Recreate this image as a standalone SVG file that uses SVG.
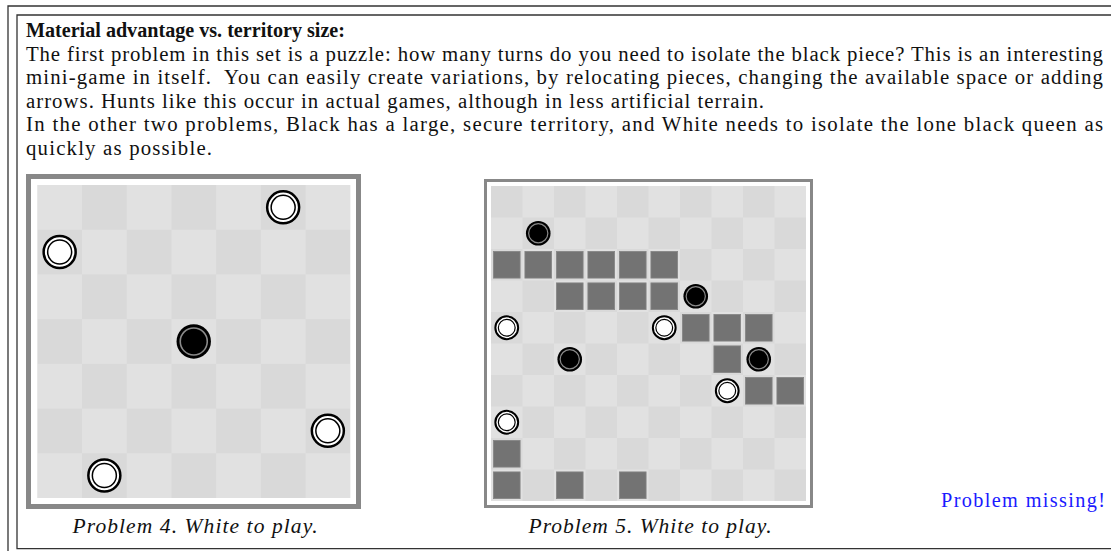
<svg xmlns="http://www.w3.org/2000/svg" width="1111" height="551" viewBox="0 0 1111 551">
<style>
.body{font-family:"Liberation Serif","Times New Roman",serif;font-size:20.8px;fill:#111}
.head{font-weight:bold}
.cap{font-family:"Liberation Serif","Times New Roman",serif;font-size:21.5px;font-style:italic;fill:#111;text-anchor:middle}
.miss{font-family:"Liberation Serif","Times New Roman",serif;font-size:20.3px;fill:#1a1aff}
.rule{stroke:#333;stroke-width:1.3;fill:none}
.frame{fill:#fff;stroke:#888}
.blk{fill:#737373;stroke:#858585;stroke-width:0.8}
.wo{fill:#fff;stroke:#000}
.wi{fill:#fff;stroke:#000}
.bo{fill:#000}
.bi{fill:none;stroke:#8a8a8a}
</style>
<defs>
<pattern id="chk1" patternUnits="userSpaceOnUse" x="37.3" y="185" width="89.428" height="89.428">
<rect width="89.428" height="89.428" fill="#e1e1e1"/>
<rect x="44.714" y="0" width="44.714" height="44.714" fill="#d9d9d9"/>
<rect x="0" y="44.714" width="44.714" height="44.714" fill="#d9d9d9"/>
</pattern>
<pattern id="chk2" patternUnits="userSpaceOnUse" x="491" y="186" width="63" height="63">
<rect width="63" height="63" fill="#e1e1e1"/>
<rect x="0" y="0" width="31.5" height="31.5" fill="#d9d9d9"/>
<rect x="31.5" y="31.5" width="31.5" height="31.5" fill="#d9d9d9"/>
</pattern>
</defs>
<rect width="1111" height="551" fill="#fff"/>
<g id="page-rules">
<path class="rule" d="M8,551 V6 H1111"/>
<path class="rule" d="M1111,15 H17 V548.7 H1111"/>
</g>
<g id="intro-text" class="body">
<text class="head" x="26" y="37" textLength="319" lengthAdjust="spacingAndGlyphs">Material advantage vs. territory size:</text>
<text x="26" y="60.5" textLength="1077" lengthAdjust="spacing">The first problem in this set is a puzzle: how many turns do you need to isolate the black piece? This is an interesting</text>
<text x="26" y="84" textLength="1077" lengthAdjust="spacing">mini-game in itself.&#160; You can easily create variations, by relocating pieces, changing the available space or adding</text>
<text x="26" y="107.5" textLength="738" lengthAdjust="spacing">arrows. Hunts like this occur in actual games, although in less artificial terrain.</text>
<text x="26" y="131" textLength="1077" lengthAdjust="spacing">In the other two problems, Black has a large, secure territory, and White needs to isolate the lone black queen as</text>
<text x="26" y="154.5" textLength="186" lengthAdjust="spacing">quickly as possible.</text>
</g>
<g id="problem4">
<rect class="frame" x="28.5" y="176.5" width="330" height="330" stroke-width="5"/>
<rect x="37.3" y="185" width="313" height="313" fill="url(#chk1)"/>
<g id="p4-w1"><circle class="wo" cx="283.15" cy="207.35" r="16" stroke-width="2.5"/><circle class="wi" cx="283.15" cy="207.35" r="12" stroke-width="1.5"/></g>
<g id="p4-w2"><circle class="wo" cx="59.65" cy="252.05" r="16" stroke-width="2.5"/><circle class="wi" cx="59.65" cy="252.05" r="12" stroke-width="1.5"/></g>
<g id="p4-b1"><circle class="bo" cx="193.75" cy="341.45" r="17.2"/><circle class="bi" cx="193.75" cy="341.45" r="13.5" stroke-width="1.6"/></g>
<g id="p4-w3"><circle class="wo" cx="327.85" cy="430.85" r="16" stroke-width="2.5"/><circle class="wi" cx="327.85" cy="430.85" r="12" stroke-width="1.5"/></g>
<g id="p4-w4"><circle class="wo" cx="104.35" cy="475.55" r="16" stroke-width="2.5"/><circle class="wi" cx="104.35" cy="475.55" r="12" stroke-width="1.5"/></g>
<text class="cap" x="195" y="533" textLength="245" lengthAdjust="spacing">Problem 4. White to play.</text>
</g>
<g id="problem5">
<rect class="frame" x="485.5" y="180.5" width="326" height="326" stroke-width="3"/>
<rect x="491" y="186" width="315" height="315" fill="url(#chk2)"/>
<g id="p5-blocks">
<rect class="blk" x="493.4" y="251.4" width="26.7" height="26.7"/>
<rect class="blk" x="524.9" y="251.4" width="26.7" height="26.7"/>
<rect class="blk" x="556.4" y="251.4" width="26.7" height="26.7"/>
<rect class="blk" x="587.9" y="251.4" width="26.7" height="26.7"/>
<rect class="blk" x="619.4" y="251.4" width="26.7" height="26.7"/>
<rect class="blk" x="650.9" y="251.4" width="26.7" height="26.7"/>
<rect class="blk" x="556.4" y="282.9" width="26.7" height="26.7"/>
<rect class="blk" x="587.9" y="282.9" width="26.7" height="26.7"/>
<rect class="blk" x="619.4" y="282.9" width="26.7" height="26.7"/>
<rect class="blk" x="650.9" y="282.9" width="26.7" height="26.7"/>
<rect class="blk" x="682.4" y="314.4" width="26.7" height="26.7"/>
<rect class="blk" x="713.9" y="314.4" width="26.7" height="26.7"/>
<rect class="blk" x="745.4" y="314.4" width="26.7" height="26.7"/>
<rect class="blk" x="713.9" y="345.9" width="26.7" height="26.7"/>
<rect class="blk" x="745.4" y="377.4" width="26.7" height="26.7"/>
<rect class="blk" x="776.9" y="377.4" width="26.7" height="26.7"/>
<rect class="blk" x="493.4" y="440.4" width="26.7" height="26.7"/>
<rect class="blk" x="493.4" y="471.9" width="26.7" height="26.7"/>
<rect class="blk" x="556.4" y="471.9" width="26.7" height="26.7"/>
<rect class="blk" x="619.4" y="471.9" width="26.7" height="26.7"/>
</g>
<g id="p5-b1"><circle class="bo" cx="538.25" cy="233.25" r="12.3"/><circle class="bi" cx="538.25" cy="233.25" r="9.6" stroke-width="1.2"/></g>
<g id="p5-b2"><circle class="bo" cx="695.75" cy="296.25" r="12.3"/><circle class="bi" cx="695.75" cy="296.25" r="9.6" stroke-width="1.2"/></g>
<g id="p5-w1"><circle class="wo" cx="506.75" cy="327.75" r="11.4" stroke-width="2"/><circle class="wi" cx="506.75" cy="327.75" r="8.4" stroke-width="1.2"/></g>
<g id="p5-w2"><circle class="wo" cx="664.25" cy="327.75" r="11.4" stroke-width="2"/><circle class="wi" cx="664.25" cy="327.75" r="8.4" stroke-width="1.2"/></g>
<g id="p5-b3"><circle class="bo" cx="569.75" cy="359.25" r="12.3"/><circle class="bi" cx="569.75" cy="359.25" r="9.6" stroke-width="1.2"/></g>
<g id="p5-b4"><circle class="bo" cx="758.75" cy="359.25" r="12.3"/><circle class="bi" cx="758.75" cy="359.25" r="9.6" stroke-width="1.2"/></g>
<g id="p5-w3"><circle class="wo" cx="727.25" cy="390.75" r="11.4" stroke-width="2"/><circle class="wi" cx="727.25" cy="390.75" r="8.4" stroke-width="1.2"/></g>
<g id="p5-w4"><circle class="wo" cx="506.75" cy="422.25" r="11.4" stroke-width="2"/><circle class="wi" cx="506.75" cy="422.25" r="8.4" stroke-width="1.2"/></g>
<text class="cap" x="650" y="533" textLength="243" lengthAdjust="spacing">Problem 5. White to play.</text>
</g>
<g id="problem6">
<text class="miss" x="941" y="507" textLength="164" lengthAdjust="spacing">Problem missing!</text>
</g>
<g id="connectors"/>
</svg>
